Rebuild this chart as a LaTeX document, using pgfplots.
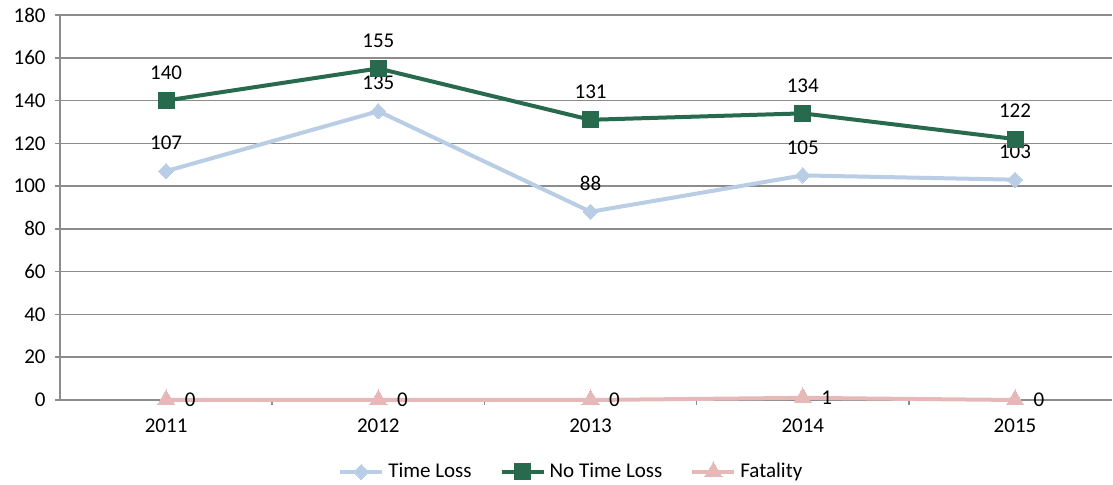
\documentclass[border=0pt]{standalone}
\usepackage{pgfplots}
\pgfplotsset{compat=1.18}
\usepackage{fontspec}
\setmainfont{Carlito}
\definecolor{tl}{HTML}{B9CDE5}
\definecolor{ntl}{HTML}{276A4D}
\definecolor{fat}{HTML}{E6B9B8}
\definecolor{gridc}{HTML}{8C8C8C}
\begin{document}
\fontsize{10.5}{12}\selectfont
\begin{tikzpicture}
\useasboundingbox (0,0) rectangle (556.5pt,242.5pt);
\begin{axis}[
  at={(30pt,42.5pt)}, anchor=south west,
  scale only axis, width=526pt, height=192.5pt,
  xmin=-0.5, xmax=4.457, ymin=0, ymax=180,
  axis lines=left,
  axis line style={draw=gridc, line width=0.75pt, -},
  xtick={0,1,2,3,4},
  xticklabels={2011,2012,2013,2014,2015},
  minor xtick={0.5,1.5,2.5,3.5},
  ytick={0,20,...,180},
  tick pos=left, tick align=outside,
  major tick length=2.5pt, minor tick length=2.5pt,
  x tick style={draw=none},
  minor x tick style={draw=gridc, line width=0.75pt},
  y tick style={draw=gridc, line width=0.75pt},
  ymajorgrids, grid style={draw=gridc, line width=0.75pt},
  tick label style={font=\fontsize{10.5}{12}\selectfont, text=black},
  xticklabel style={yshift=-3pt},
  yticklabel style={xshift=-1pt},
  /pgf/number format/assume math mode=true,
  clip=false,
  legend style={at={(0.487,-0.187)}, anchor=center, draw=none, fill=none,
    legend columns=3, font=\fontsize{10.5}{12}\selectfont,
    /tikz/every even column/.append style={column sep=12pt}},
  legend image code/.code={\draw[mark repeat=2,mark phase=2,#1] plot coordinates {(0pt,0pt)(10.5pt,0pt)(21pt,0pt)};},
  legend cell align=left,
  nodes near coords,
  every node near coord/.append style={font=\fontsize{10.5}{12}\selectfont, text=black},
]
\addplot[color=tl, line width=2pt, mark=diamond*, mark size=4.5pt, mark options={fill=tl, draw=tl, line width=0pt, xscale=1.1, yscale=0.85},
  every node near coord/.append style={anchor=center, yshift=14pt}]
  coordinates {(0,107)(1,135)(2,88)(3,105)(4,103)};
\addlegendentry{Time Loss}
\addplot[color=ntl, line width=2pt, mark=square*, mark size=4pt, mark options={fill=ntl, draw=ntl, line width=0pt},
  every node near coord/.append style={anchor=center, yshift=14pt}]
  coordinates {(0,140)(1,155)(2,131)(3,134)(4,122)};
\addlegendentry{No Time Loss}
\addplot[color=fat, line width=2pt, mark=triangle*, mark size=5pt, mark options={fill=fat, draw=fat, line width=0pt},
  every node near coord/.append style={anchor=center, xshift=12pt}]
  coordinates {(0,0)(1,0)(2,0)(3,1)(4,0)};
\addlegendentry{Fatality}
\end{axis}
\end{tikzpicture}
\end{document}
